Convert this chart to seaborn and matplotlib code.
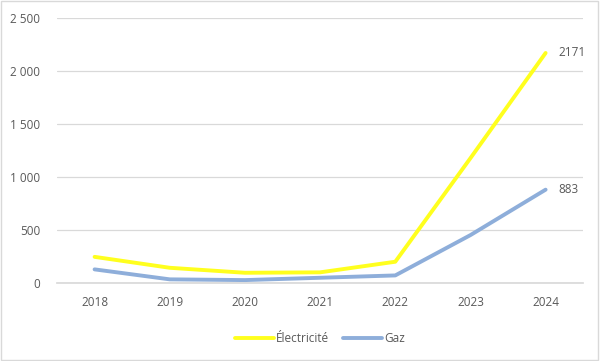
import numpy as np
import pandas as pd
import seaborn as sns
import matplotlib.pyplot as plt
from matplotlib.patches import Rectangle

years = ["2018", "2019", "2020", "2021", "2022", "2023", "2024"]
electricite = [250, 147, 100, 104, 204, 1180, 2171]
gaz = [132, 38, 31, 53, 75, 455, 883]
yticks = [0, 500, 1000, 1500, 2000, 2500]

df = pd.DataFrame({
    "annee": years * 2,
    "valeur": electricite + gaz,
    "serie": ["Électricité"] * len(years) + ["Gaz"] * len(years),
})

sns.set_theme(style="white")
plt.rcParams["font.family"] = ["Open Sans", "DejaVu Sans"]
text_col = "#595959"

fig = plt.figure(figsize=(6, 3.61), dpi=100)
ax = fig.add_axes([0.095, 0.215, 0.877, 0.735])

sns.lineplot(data=df, x="annee", y="valeur", hue="serie", sort=False,
             palette={"Électricité": "#FFFF1E", "Gaz": "#8EAEDA"},
             linewidth=2.8, ax=ax)

ax.set_xlim(-0.5, len(years) - 0.5)
ax.set_ylim(0, 2500)
ax.set_yticks(yticks)
ax.set_yticklabels([f"{v:,}".replace(",", " ") for v in yticks])
ax.yaxis.grid(True, color="#d9d9d9", linewidth=0.9)
ax.set_axisbelow(True)
for s in ["top", "right", "left"]:
    ax.spines[s].set_visible(False)
ax.spines["bottom"].set_color("#d9d9d9")
ax.tick_params(axis="both", colors=text_col, labelsize=8.5, length=0, pad=9)
ax.tick_params(axis="y", pad=12)
ax.set_xlabel("")
ax.set_ylabel("")

ax.annotate(str(electricite[-1]), (len(years) - 1, electricite[-1]),
            xytext=(9, 0), textcoords="offset points", va="center",
            fontsize=8.5, color=text_col)
ax.annotate(str(gaz[-1]), (len(years) - 1, gaz[-1]),
            xytext=(9, 0), textcoords="offset points", va="center",
            fontsize=8.5, color=text_col)

leg = ax.legend(loc="upper center", bbox_to_anchor=(0.5, -0.145), ncol=2,
                frameon=False, fontsize=8.5, handlelength=3.3,
                columnspacing=1.2, handletextpad=0.2)
for t in leg.get_texts():
    t.set_color(text_col)

fig.patches.append(Rectangle((0.002, 0.003), 0.995, 0.993, transform=fig.transFigure,
                             fill=False, edgecolor="#d9d9d9", linewidth=1))

fig.savefig("out.png", dpi=100)
